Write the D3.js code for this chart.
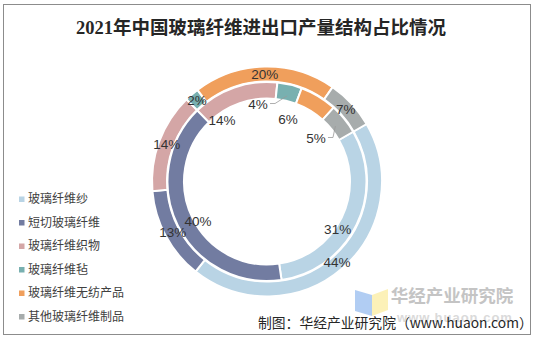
<!DOCTYPE html>
<html><head><meta charset="utf-8">
<script src="https://cdn.jsdelivr.net/npm/d3@7"></script>
<style>body{margin:0;background:#fff}svg{display:block}</style>
</head><body><svg id="c" width="535" height="339"></svg>
<script>
const categories = ["玻璃纤维纱","短切玻璃纤维","玻璃纤维织物","玻璃纤维毡","玻璃纤维无纺产品","其他玻璃纤维制品"];
const outerValues = [44,13,14,2,20,7];
const innerValues = [31,40,14,4,6,5];
const colors = ["#B9D4E5","#727CA1","#D4A6A6","#78B0B0","#F09F5C","#A7ACAC"];
// manual placement of inner-ring labels (angle deg clockwise from top, radius)
const innerLabelAngle = [123.8,240.2,323.8,353.4,18.6,48.4];
const innerLabelRadius = [85,79.5,76,78,66,65.5];
const leaderIdx = [3,5];

const svg = d3.select("#c");
svg.append("rect").attr("x",3.5).attr("y",4.5).attr("width",527).attr("height",330)
  .attr("fill","#fff").attr("stroke","#8c8c8c").attr("stroke-width",1);

svg.append("text").attr("x",261).attr("y",34).attr("text-anchor","middle")
  .attr("font-family","'Liberation Serif','Noto Sans CJK SC'").attr("font-weight","bold")
  .attr("font-size",18.5).attr("fill","#262626").text("2021年中国玻璃纤维进出口产量结构占比情况");

const cx=267, cy=181.5;
const g = svg.append("g").attr("transform",`translate(${cx},${cy})`);
const pie = d3.pie().sort(null).value(d=>d).startAngle(Math.PI/3).endAngle(Math.PI/3+2*Math.PI);
const outerArc = d3.arc().innerRadius(100).outerRadius(115);
const innerArc = d3.arc().innerRadius(83).outerRadius(99.5);
const outerLbl = d3.arc().innerRadius(107).outerRadius(107);
const innerMid = d3.arc().innerRadius(88).outerRadius(88);

const po = pie(outerValues), pi = pie(innerValues);
g.selectAll("path.o").data(po).join("path").attr("d",outerArc)
  .attr("fill",(d,i)=>colors[i]).attr("stroke","#fff").attr("stroke-width",2);
g.selectAll("path.i").data(pi).join("path").attr("d",innerArc)
  .attr("fill",(d,i)=>colors[i]).attr("stroke","#fff").attr("stroke-width",2);

const lblFont = "'Liberation Sans',Arial,sans-serif";
g.selectAll("text.o").data(po).join("text").attr("transform",d=>`translate(${outerLbl.centroid(d)})`)
  .attr("text-anchor","middle").attr("dy","0.36em").attr("font-family",lblFont)
  .attr("font-size",13.5).attr("fill","#333").text(d=>d.data+"%");

const pol = (a,r)=>[r*Math.sin(a*Math.PI/180), -r*Math.cos(a*Math.PI/180)];
g.selectAll("text.i").data(pi).join("text")
  .attr("transform",(d,i)=>`translate(${pol(innerLabelAngle[i],innerLabelRadius[i])})`)
  .attr("text-anchor","middle").attr("dy","0.36em").attr("font-family",lblFont)
  .attr("font-size",13.5).attr("fill","#333").text(d=>d.data+"%");

leaderIdx.forEach(i=>{
  const p = pol(innerLabelAngle[i],innerLabelRadius[i]);
  const x0 = p[0]+12, y0 = p[1]-0.5;
  const c = innerMid.centroid(pi[i]);
  g.append("path").attr("d",`M${x0},${y0}L${x0+5},${y0}L${c[0]},${c[1]}`)
   .attr("fill","none").attr("stroke","#999").attr("stroke-width",0.8);
});

// legend
const lg = svg.append("g");
categories.forEach((c,i)=>{
  const y = 199 + i*23.5;
  lg.append("rect").attr("x",19).attr("y",y-2.5).attr("width",5.5).attr("height",5.5).attr("fill",colors[i]);
  lg.append("text").attr("x",28).attr("y",y).attr("dy","0.36em")
    .attr("font-family","'Noto Sans CJK SC'").attr("font-size",12).attr("fill","#404040").text(c);
});

// watermark
svg.append("path").attr("d","M355,290L372,295L372,316L355,311Z").attr("fill","#A9C8F2").attr("opacity",0.9);
svg.append("path").attr("d","M372,295L388,289L388,310L372,316Z").attr("fill","#FCEFB0").attr("opacity",0.9);
svg.append("text").attr("x",452).attr("y",296).attr("dy","0.36em").attr("text-anchor","middle")
  .attr("font-family","'Noto Sans CJK SC'").attr("font-weight","bold").attr("font-size",17.5)
  .attr("fill","#C4C4C4").text("华经产业研究院");
svg.append("text").attr("x",455).attr("y",317).attr("dy","0.36em").attr("text-anchor","middle")
  .attr("font-family","'Liberation Sans'").attr("font-weight","bold").attr("font-size",13).attr("letter-spacing",1)
  .attr("fill","#DADADA").text("www.huaon.com");

svg.append("text").attr("x",258).attr("y",323).attr("dy","0.36em")
  .attr("font-family","'Noto Sans CJK SC'").attr("font-size",13.8).attr("fill","#262626")
  .text("制图：华经产业研究院（www.huaon.com）");
</script></body></html>
